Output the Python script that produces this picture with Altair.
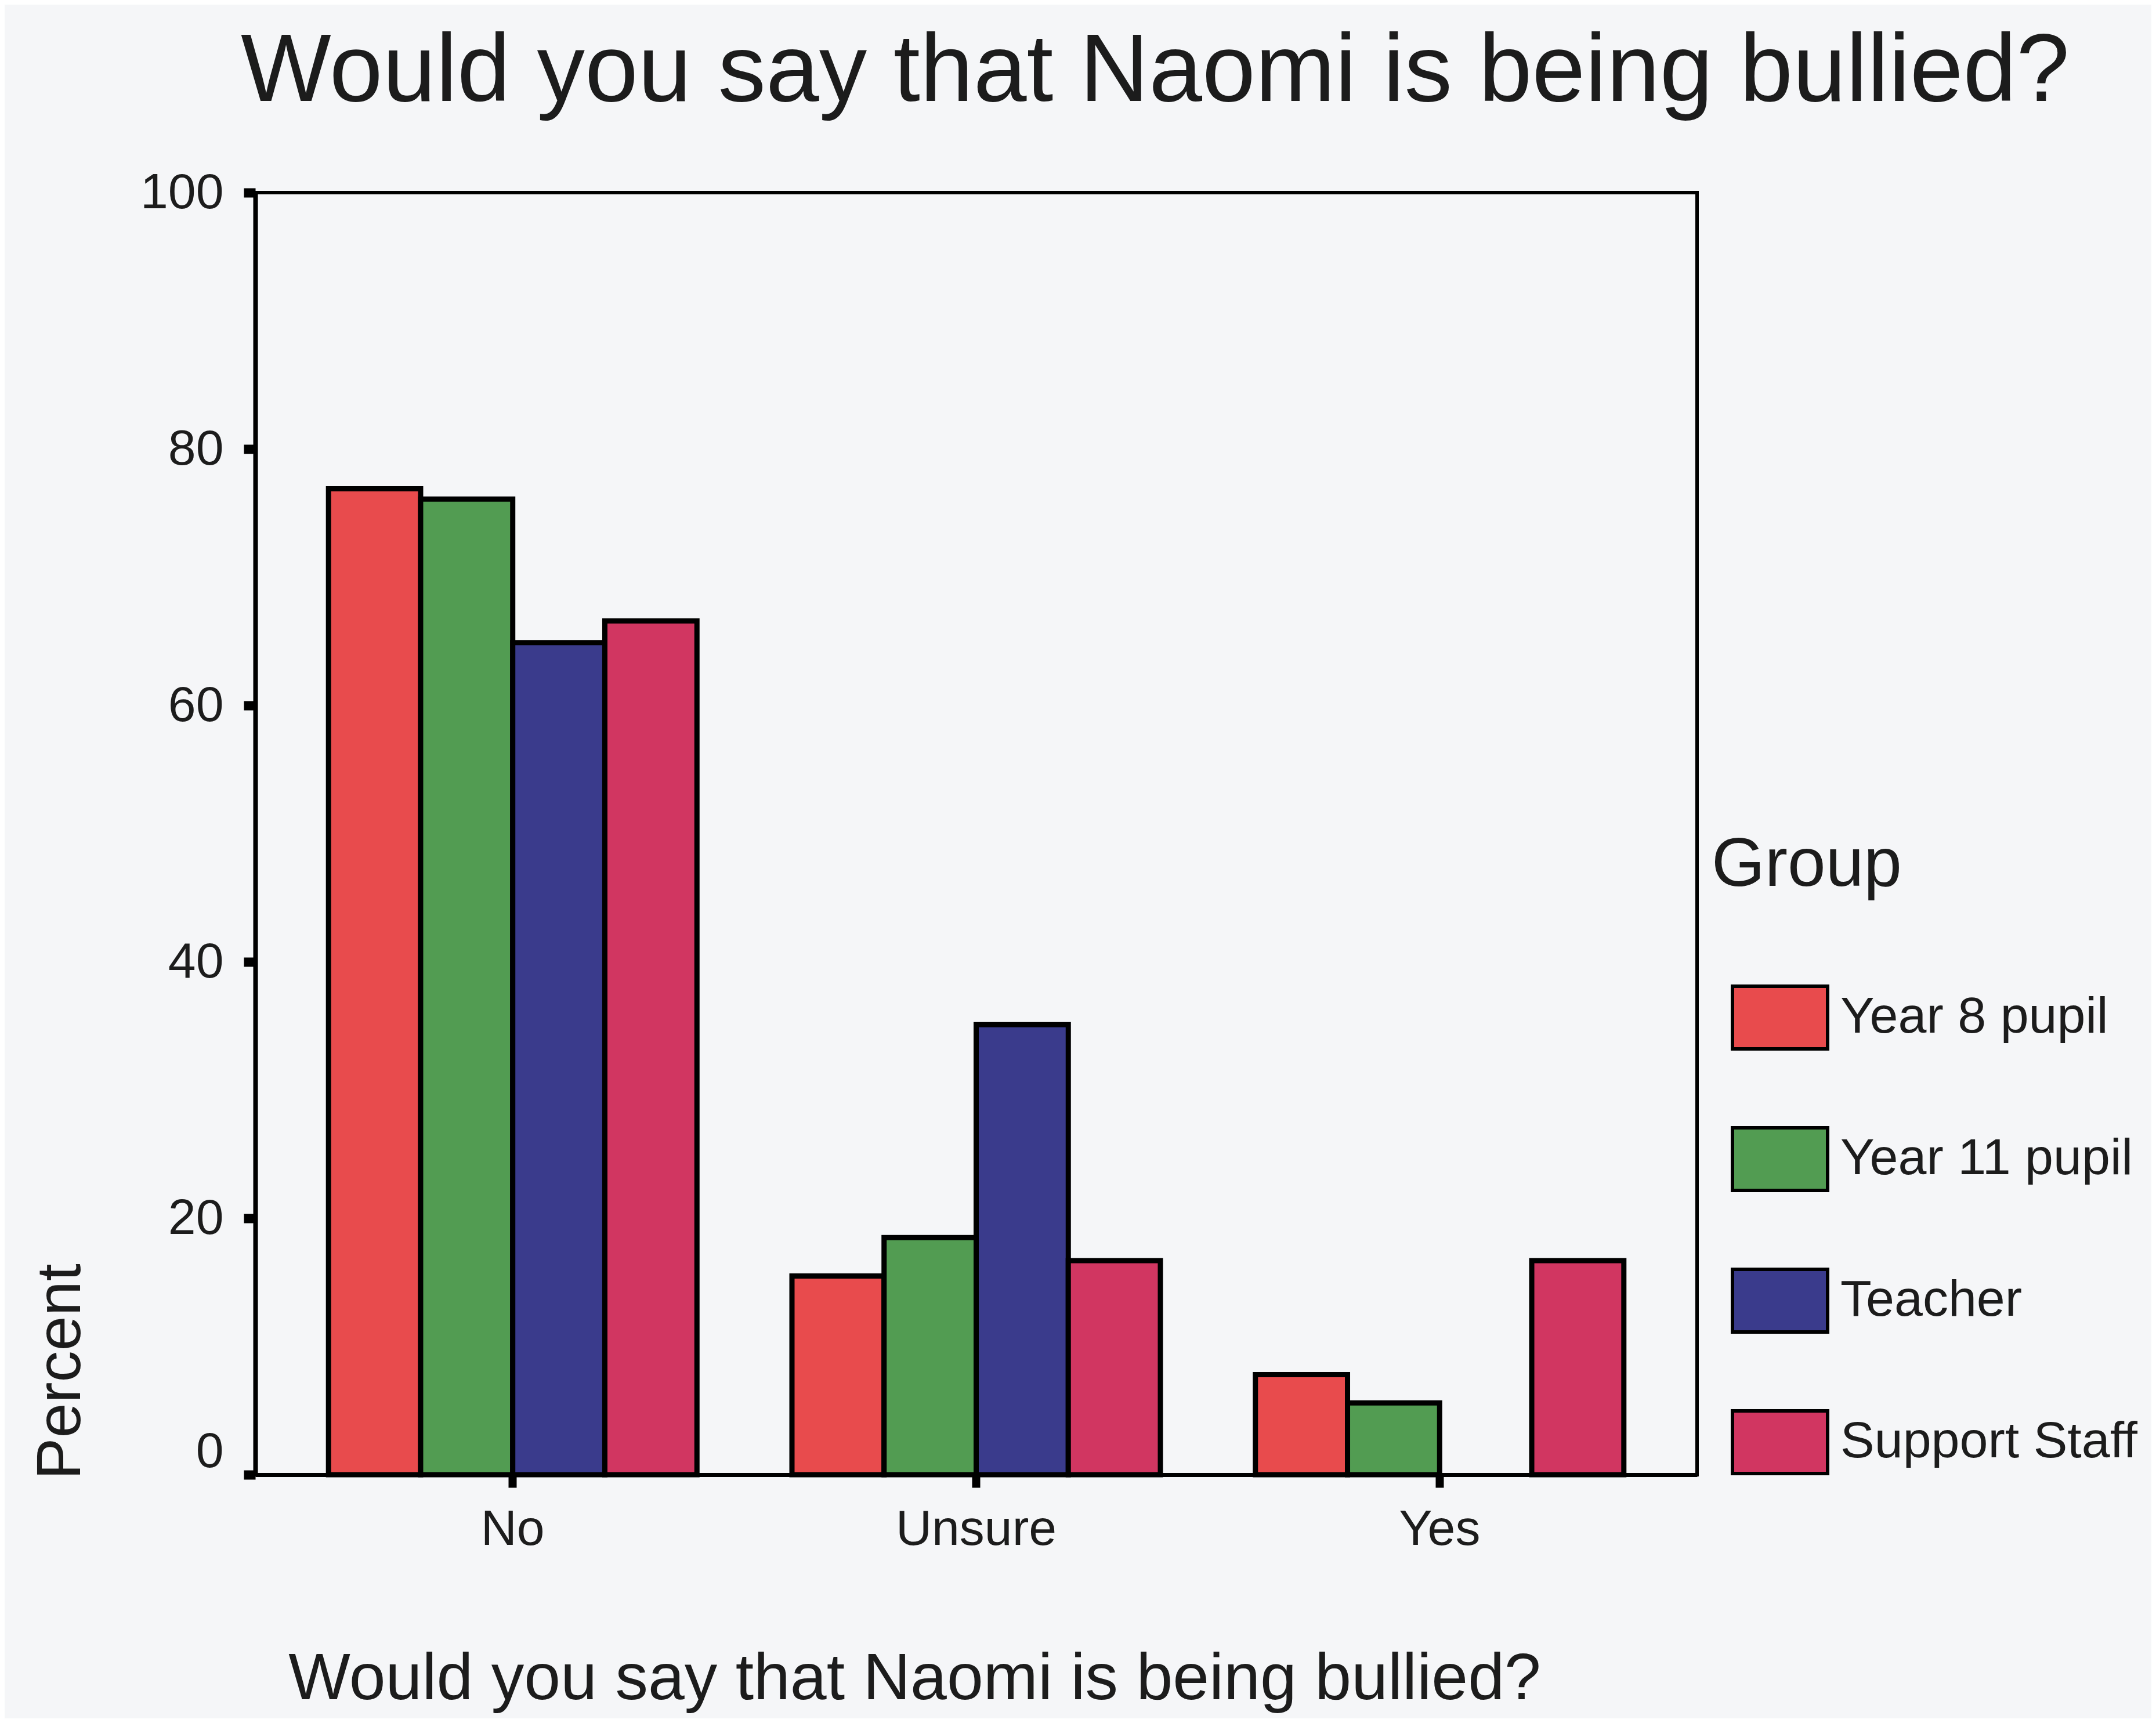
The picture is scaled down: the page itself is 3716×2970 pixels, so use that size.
import altair as alt
import pandas as pd

answers = ["No", "Unsure", "Yes"]
groups = ["Year 8 pupil", "Year 11 pupil", "Teacher", "Support Staff"]
year8 = [76.9, 15.5, 7.8]
year11 = [76.1, 18.5, 5.6]
teacher = [64.9, 35.1, 0.0]
support = [66.6, 16.7, 16.7]
colors = ["#E84B4D", "#529C52", "#3A3B8C", "#D13661"]
y_ticks = [0, 20, 40, 60, 80, 100]

rows = []
for g, vals in zip(groups, [year8, year11, teacher, support]):
    for a, v in zip(answers, vals):
        rows.append({"answer": a, "group": g, "percent": v})
df = pd.DataFrame(rows)

FONT = "Liberation Sans"
BG = "#F5F6F8"
INK = "#1c1c1c"

W, H = 2485, 2210
PAD_L, PAD_T = 432, 324
PAD_R = 3700 - PAD_L - W
PAD_B = 2954 - PAD_T - H

chart = (
    alt.Chart(df)
    .transform_filter("datum.percent > 0")
    .mark_bar(stroke="black", strokeWidth=9, strokeJoin="miter")
    .encode(
        x=alt.X(
            "answer:N",
            sort=answers,
            scale=alt.Scale(paddingInner=0.205, paddingOuter=0.158),
            axis=alt.Axis(
                title="Would you say that Naomi is being bullied?",
                labelAngle=0,
                labelFont=FONT,
                labelFontSize=86,
                labelColor=INK,
                labelPadding=30,
                labelLimit=2000,
                tickSize=22,
                tickWidth=14,
                tickColor="black",
                domainColor="black",
                domainWidth=7,
                titleFont=FONT,
                titleFontSize=113,
                titleFontWeight="normal",
                titleColor=INK,
                titleX=1136,
                titleY=386,
                titleAlign="center",
                titleBaseline="alphabetic",
                titleLimit=4000,
            ),
        ),
        xOffset=alt.XOffset(
            "group:N",
            sort=groups,
            scale=alt.Scale(domain=groups, paddingInner=0, paddingOuter=0),
        ),
        y=alt.Y(
            "percent:Q",
            scale=alt.Scale(domain=[0, 100], nice=False),
            axis=alt.Axis(
                values=y_ticks,
                title="Percent",
                grid=False,
                labelFont=FONT,
                labelFontSize=86,
                labelColor=INK,
                labelPadding=35,
                labelFlush=False,
                labelOffset={"condition": {"test": "datum.value === 0", "value": -40}, "value": 0},
                tickSize=20,
                tickWidth=16,
                tickColor="black",
                domainColor="black",
                domainWidth=8,
                titleFont=FONT,
                titleFontSize=108,
                titleFontWeight="normal",
                titleColor=INK,
                titleAngle=270,
                titleAlign="left",
                titleBaseline="alphabetic",
                titleX=-303,
                titleY=2218,
            ),
        ),
        color=alt.Color(
            "group:N",
            sort=groups,
            scale=alt.Scale(domain=groups, range=colors),
            legend=alt.Legend(
                title="Group",
                orient="none",
                legendX=2510,
                legendY=1102,
                padding=0,
                titleFont=FONT,
                titleFontSize=118,
                titleFontWeight="normal",
                titleColor=INK,
                titlePadding=144,
                titleLimit=2000,
                labelFont=FONT,
                labelFontSize=88,
                labelColor=INK,
                labelOffset=19,
                labelLimit=2000,
                symbolType="M-1,-0.66H1V0.66H-1Z",
                symbolSize=26896,
                symbolStrokeColor="black",
                symbolStrokeWidth=6,
                symbolOpacity=1,
                symbolOffset=33,
                rowPadding=128,
                clipHeight=116,
            ),
        ),
    )
    .properties(
        width=W,
        height=H,
        autosize="none",
        padding={"left": PAD_L, "top": PAD_T, "right": PAD_R, "bottom": PAD_B},
        background=BG,
        title=alt.TitleParams(
            "Would you say that Naomi is being bullied?",
            font=FONT,
            fontSize=165,
            fontWeight="normal",
            color=INK,
            anchor="start",
            frame="group",
            dx=-25,
            offset=80,
        ),
    )
    .configure_view(stroke="black", strokeWidth=6, fill=BG)
)

chart.save("out.html", embed_options={"renderer": "svg", "actions": False})
